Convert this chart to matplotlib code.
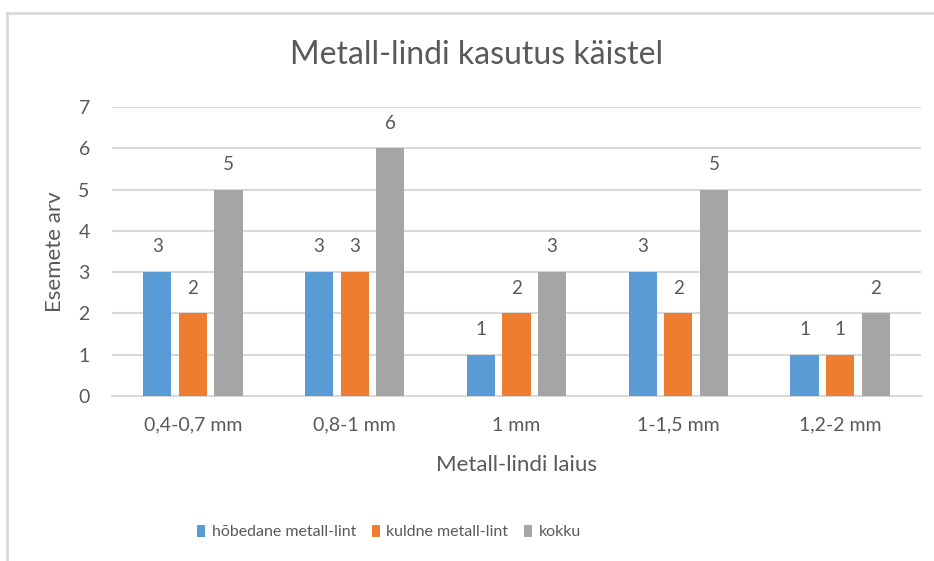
import matplotlib
matplotlib.use("Agg")
import matplotlib.pyplot as plt
import numpy as np
from matplotlib.lines import Line2D
from matplotlib.patches import Patch

categories = ["0,4-0,7 mm", "0,8-1 mm", "1 mm", "1-1,5 mm", "1,2-2 mm"]
series_names = ["hõbedane metall-lint", "kuldne metall-lint", "kokku"]
hobedane = [3, 3, 1, 3, 1]
kuldne = [2, 3, 2, 2, 1]
kokku = [5, 6, 3, 5, 2]
yticks = [0, 1, 2, 3, 4, 5, 6, 7]

colors = ["#5B9BD5", "#ED7D31", "#A5A5A5"]
text_color = "#595959"
grid_color = "#D9D9D9"
font = "Lato"

fig = plt.figure(figsize=(9.34, 5.61), dpi=100)
ax = fig.add_axes([112/934, 1-396/561, (921-112)/934, (396-107)/561])

x = np.arange(len(categories))
width = 0.175
offsets = [-0.22, 0.0, 0.22]
for vals, off, col in zip([hobedane, kuldne, kokku], offsets, colors):
    bars = ax.bar(x + off, vals, width=width, color=col, zorder=3)
    for b, v in zip(bars, vals):
        ax.annotate(str(v), (b.get_x() + b.get_width()/2, v), xytext=(0, 12),
                    textcoords="offset points", ha="center", va="bottom",
                    fontsize=13.5, color=text_color, family=font)

ax.set_xlim(-0.5, len(categories) - 0.5)
ax.set_ylim(0, 7)
ax.set_yticks(yticks)
ax.set_xticks(x)
ax.set_xticklabels(categories)
ax.yaxis.grid(True, color=grid_color, linewidth=1.5, zorder=0)
ax.set_axisbelow(True)
for s in ["top", "right", "left"]:
    ax.spines[s].set_visible(False)
ax.spines["bottom"].set_color(grid_color)
ax.spines["bottom"].set_linewidth(1.5)
ax.tick_params(axis="both", length=0, labelsize=14, labelcolor=text_color)
ax.tick_params(axis="x", pad=15)
ax.tick_params(axis="y", pad=16)
for lbl in ax.get_xticklabels() + ax.get_yticklabels():
    lbl.set_family(font)

ax.set_xlabel("Metall-lindi laius", fontsize=16, color=text_color, family=font)
ax.set_ylabel("Esemete arv", fontsize=16, color=text_color, family=font)
ax.xaxis.set_label_coords(0.5, -0.203)
ax.yaxis.set_label_coords(-0.058, 0.5)

fig.text(477/934, 1-55/561, "Metall-lindi kasutus käistel", ha="center", va="center",
         fontsize=23, color=text_color, family=font)

handles = [Patch(facecolor=c, edgecolor="none") for c in colors]
fig.legend(handles, series_names, loc="center", bbox_to_anchor=(389/934, 1-532/561),
           ncol=3, frameon=False, prop={"family": font, "size": 11.5},
           labelcolor=text_color, handlelength=0.5, handleheight=0.8,
           handletextpad=0.4, columnspacing=1.0)

# chart frame (partially cropped)
fig.add_artist(Line2D([7/934, 7/934], [0, 1-13/561], color=grid_color, linewidth=2,
                      transform=fig.transFigure))
fig.add_artist(Line2D([7/934, 1], [1-13/561, 1-13/561], color=grid_color, linewidth=2,
                      transform=fig.transFigure))

fig.savefig("out.png", dpi=100, facecolor="white")
